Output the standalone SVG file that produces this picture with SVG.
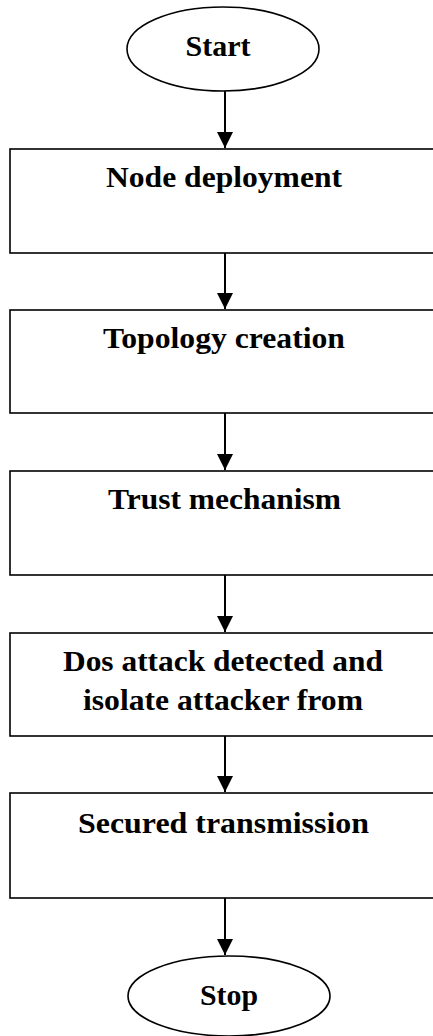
<svg xmlns="http://www.w3.org/2000/svg" width="433" height="1036" viewBox="0 0 433 1036">
<style>
.shape{fill:#fff;stroke:#000;stroke-width:1.6}
.lbl{font-family:"Liberation Serif","Times New Roman",serif;font-weight:bold;font-size:30px;fill:#000;text-anchor:middle}
.conn{stroke:#000;stroke-width:2;fill:none}
</style>
<defs>
<marker id="arr" viewBox="0 0 16 16" refX="16" refY="8" markerWidth="16" markerHeight="16" markerUnits="userSpaceOnUse" orient="auto">
<path d="M0,0 L16,8 L0,16 z" fill="#000"/>
</marker>
</defs>
<rect width="433" height="1036" fill="#fff"/>
<g id="connectors">
<line class="conn" x1="225" y1="91" x2="225" y2="148" marker-end="url(#arr)"/>
<line class="conn" x1="225" y1="253" x2="225" y2="309" marker-end="url(#arr)"/>
<line class="conn" x1="225" y1="413" x2="225" y2="470" marker-end="url(#arr)"/>
<line class="conn" x1="225" y1="575" x2="225" y2="632" marker-end="url(#arr)"/>
<line class="conn" x1="225" y1="736" x2="225" y2="792" marker-end="url(#arr)"/>
<line class="conn" x1="225" y1="898" x2="225" y2="955" marker-end="url(#arr)"/>
</g>
<g id="start">
<ellipse class="shape" cx="223" cy="49" rx="96" ry="42"/>
<text class="lbl" x="218" y="56" textLength="65" lengthAdjust="spacingAndGlyphs">Start</text>
</g>
<g id="node-deployment">
<rect class="shape" x="10" y="149" width="432" height="104"/>
<text class="lbl" x="224" y="187" textLength="236" lengthAdjust="spacingAndGlyphs">Node deployment</text>
</g>
<g id="topology-creation">
<rect class="shape" x="10" y="310" width="432" height="103"/>
<text class="lbl" x="224" y="348" textLength="242" lengthAdjust="spacingAndGlyphs">Topology creation</text>
</g>
<g id="trust-mechanism">
<rect class="shape" x="10" y="471" width="432" height="104"/>
<text class="lbl" x="224.5" y="509" textLength="233" lengthAdjust="spacingAndGlyphs">Trust mechanism</text>
</g>
<g id="dos-attack">
<rect class="shape" x="10" y="633" width="432" height="103"/>
<text class="lbl" x="223" y="671" textLength="320" lengthAdjust="spacingAndGlyphs">Dos attack detected and</text>
<text class="lbl" x="223" y="710" textLength="280" lengthAdjust="spacingAndGlyphs">isolate attacker from</text>
</g>
<g id="secured-transmission">
<rect class="shape" x="10" y="793" width="432" height="105"/>
<text class="lbl" x="223.5" y="833" textLength="291" lengthAdjust="spacingAndGlyphs">Secured transmission</text>
</g>
<g id="stop">
<ellipse class="shape" cx="229" cy="996" rx="101" ry="40"/>
<text class="lbl" x="229" y="1005" textLength="58" lengthAdjust="spacingAndGlyphs">Stop</text>
</g>
</svg>
